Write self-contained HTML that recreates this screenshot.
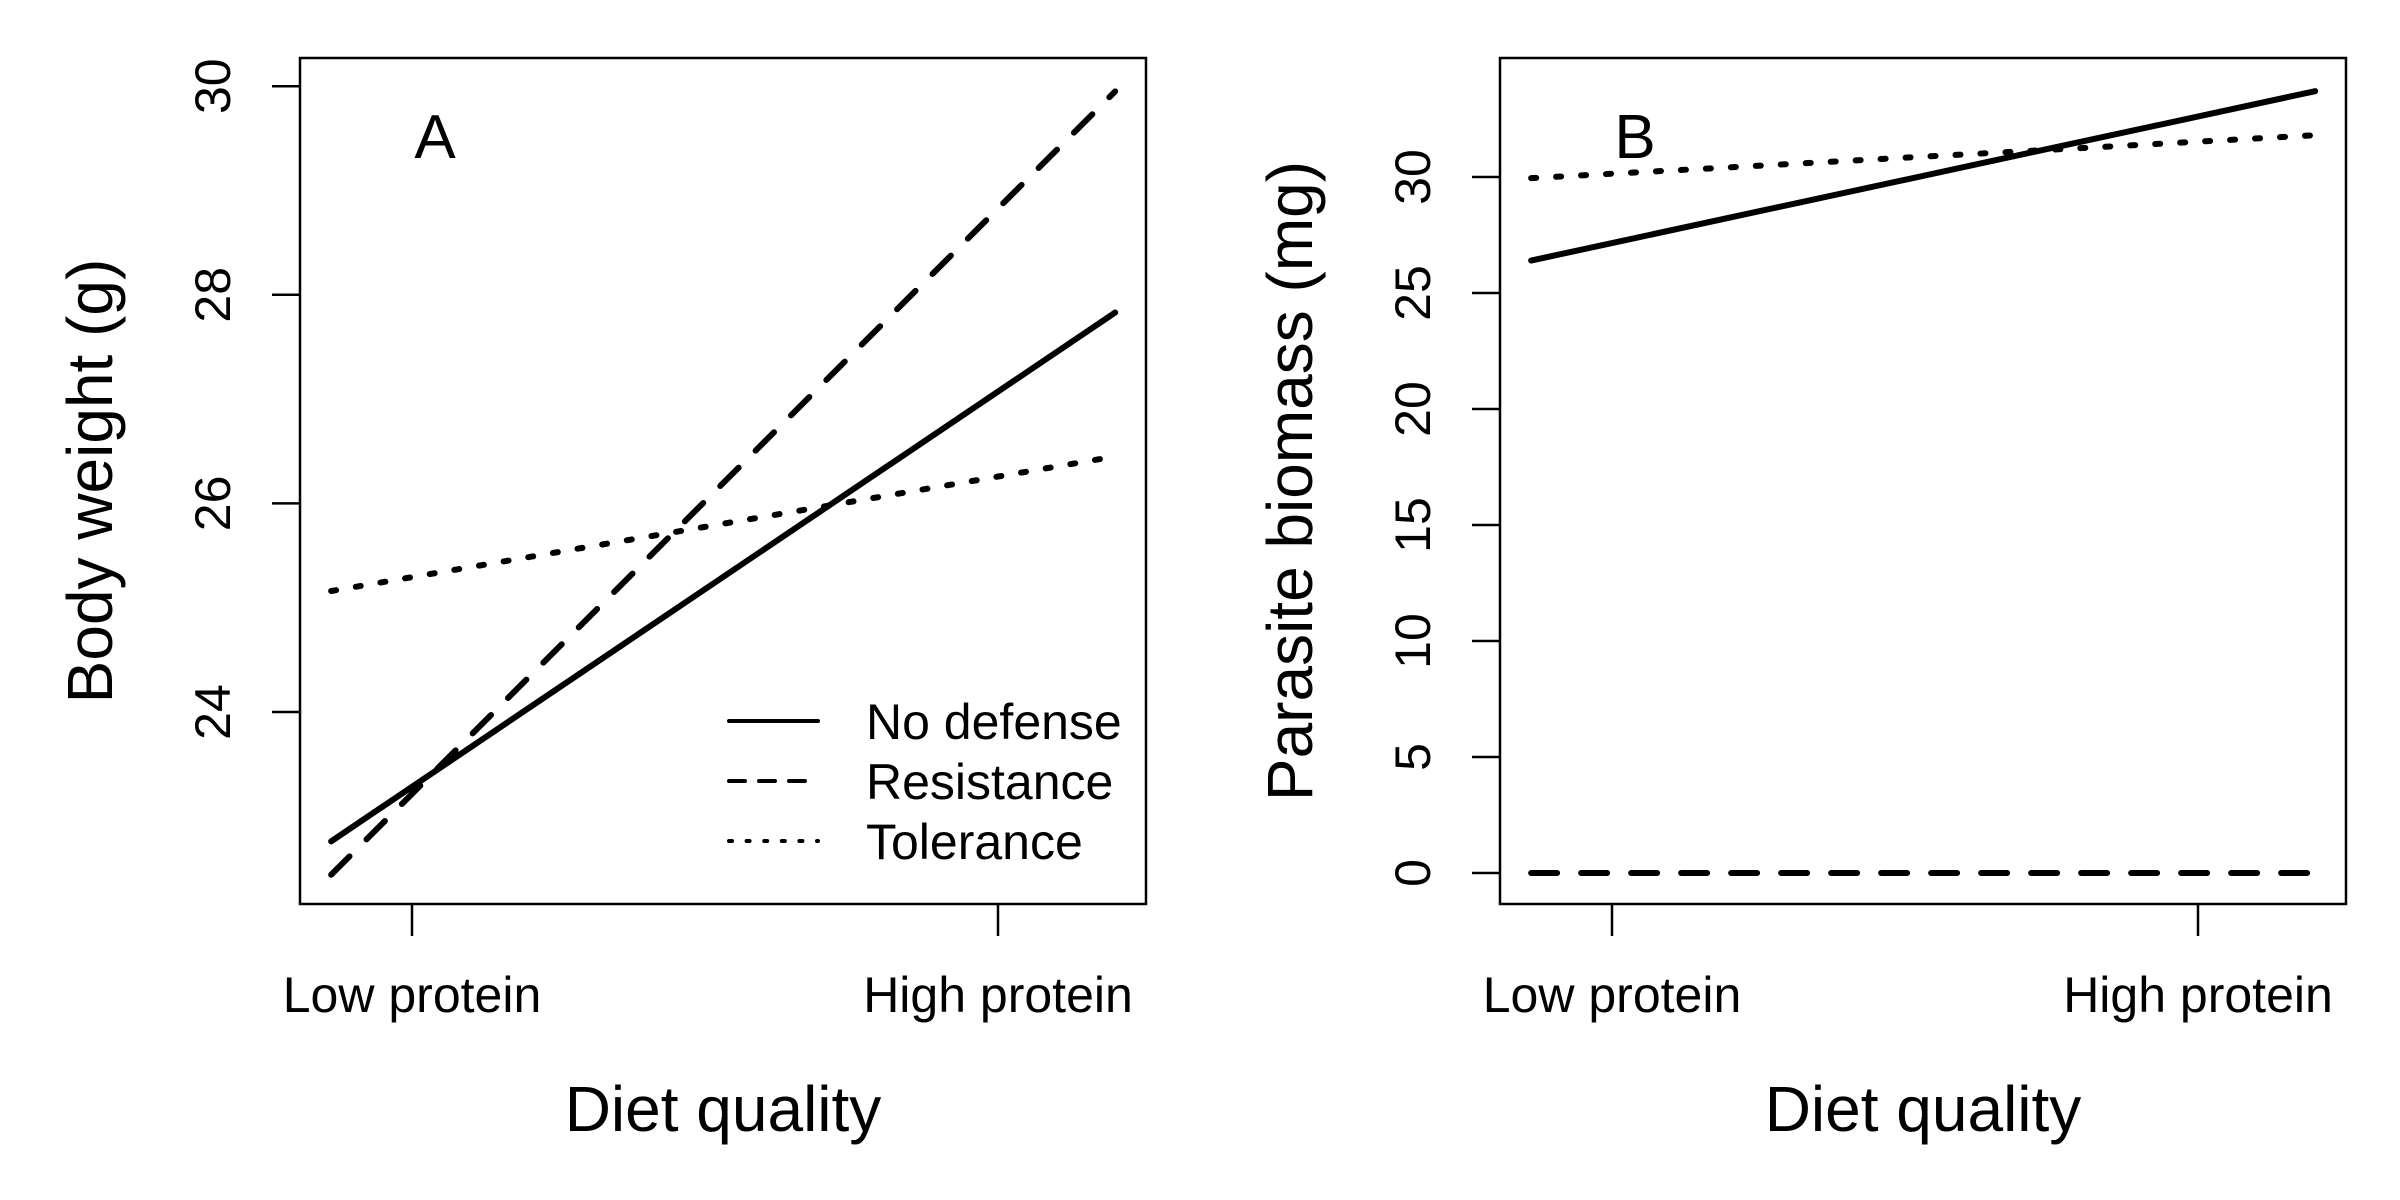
<!DOCTYPE html>
<html><head><meta charset="utf-8"><style>
html,body{margin:0;padding:0;background:#fff;}
svg{display:block;font-family:"Liberation Sans",Arial,sans-serif;}
</style></head><body>
<svg id="chart" width="2400" height="1200" viewBox="0 0 2400 1200" xmlns="http://www.w3.org/2000/svg"></svg>
<script>
const categories = ["Low protein", "High protein"];
const seriesNames = ["No defense", "Resistance", "Tolerance"];
const xSpan = [0.862, 2.2];
const bodyNoDefense = [22.76, 27.83];
const bodyResistance = [22.44, 29.95];
const bodyTolerance = [25.16, 26.45];
const bioNoDefense = [26.4, 33.7];
const bioResistance = [0, 0];
const bioTolerance = [29.95, 31.8];
const ticksA = [24, 26, 28, 30];
const ticksB = [0, 5, 10, 15, 20, 25, 30];

const NS = "http://www.w3.org/2000/svg";
const svg = document.getElementById('chart');
const dashes = ["", "26 24", "5 20"];
const legDashes = ["", "16 14", "3 14.6"];
function mk(tag, attrs, parent) {
  const e = document.createElementNS(NS, tag);
  for (const k in attrs) e.setAttribute(k, attrs[k]);
  (parent || svg).appendChild(e);
  return e;
}
function panel(ox, key, ylab, yfn, ticks, series, letter, legend) {
  const g = mk('g', {});
  
  
  const xfn = v => ox + 412 + (v - 1) * 586;
  const box = mk('rect', {x: ox + 300, y: 58, width: 846, height: 846, fill: 'none', stroke: '#000', 'stroke-width': 2.5}, g);
  
  
  ticks.forEach(t => {
    const y = yfn(t);
    const tl = mk('line', {x1: ox + 300, x2: ox + 272, y1: y, y2: y, stroke: '#000', 'stroke-width': 2.5}, g);
    
    
    const tx = mk('text', {x: ox + 230, y: y, 'font-size': 50, 'text-anchor': 'middle', transform: `rotate(-90 ${ox + 230} ${y})`}, g);
    tx.textContent = t;
    
    
  });
  categories.forEach((c, i) => {
    const x = xfn(i + 1);
    const tl = mk('line', {x1: x, x2: x, y1: 904, y2: 936, stroke: '#000', 'stroke-width': 2.5}, g);
    
    
    const tx = mk('text', {x: x, y: 1012, 'font-size': 50, 'text-anchor': 'middle'}, g);
    tx.textContent = c;
    
    
  });
  series.forEach((s, i) => {
    const ln = mk('line', {x1: xfn(xSpan[0]), x2: xfn(xSpan[1]), y1: yfn(s[0]), y2: yfn(s[1]), stroke: '#000', 'stroke-width': 6, 'stroke-linecap': 'round', 'stroke-dasharray': dashes[i]}, g);
    
    
  });
  const xt = mk('text', {x: ox + 723, y: 1131, 'font-size': 64, 'text-anchor': 'middle'}, g);
  xt.textContent = 'Diet quality';
  
  
  const yt = mk('text', {x: ox + 112, y: 481, 'font-size': 64, 'text-anchor': 'middle', transform: `rotate(-90 ${ox + 112} 481)`}, g);
  yt.textContent = ylab;
  
  
  const lt = mk('text', {x: ox + 435, y: 158, 'font-size': 62, 'text-anchor': 'middle'}, g);
  lt.textContent = letter;
  
  
  if (legend) {
    seriesNames.forEach((n, i) => {
      const y = 721 + i * 60;
      const ll = mk('line', {x1: ox + 729, x2: ox + 818, y1: y, y2: y, stroke: '#000', 'stroke-width': 4, 'stroke-linecap': 'round', 'stroke-dasharray': legDashes[i]}, g);
      
      
      const lx = mk('text', {x: ox + 866, y: y + 18, 'font-size': 50}, g);
      lx.textContent = n;
      
      
    });
  }
}
panel(0, 'a', 'Body weight (g)', v => 712 - (v - 24) * 104.3, ticksA, [bodyNoDefense, bodyResistance, bodyTolerance], 'A', true);
panel(1200, 'b', 'Parasite biomass (mg)', v => 873 - v * 23.2, ticksB, [bioNoDefense, bioResistance, bioTolerance], 'B', false);
</script>
</body></html>
